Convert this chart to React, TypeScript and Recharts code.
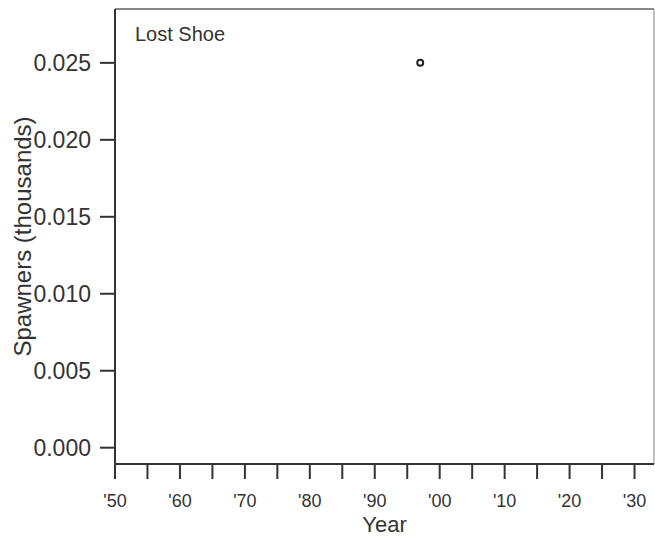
import React from 'react';
import { ScatterChart, Scatter, XAxis, YAxis, ReferenceLine } from 'recharts';

const years = [1997];
const spawners = [0.025];
const xTicks = [1950, 1955, 1960, 1965, 1970, 1975, 1980, 1985, 1990, 1995, 2000, 2005, 2010, 2015, 2020, 2025, 2030];
const yTicks = [0, 0.005, 0.01, 0.015, 0.02, 0.025];
const xDomain = [1950, 2033];
const yDomain = [-0.00106, 0.0285];
const title = 'Lost Shoe';

const data = years.map((y, i) => ({ year: y, value: spawners[i] }));

const FONT = 'Arial, "Liberation Sans", Helvetica, sans-serif';
const INK = '#333';

const xFmt = (v: number) => (v % 10 === 0 ? "'" + String(v % 100).padStart(2, '0') : '');

const Dot = (props: any) => {
  const { cx, cy } = props;
  return <circle cx={cx} cy={cy} r={3} fill="none" stroke="#222" strokeWidth={2} />;
};

export default function App() {
  return (
    <div style={{ position: 'absolute', left: 0, top: 0, width: 655, height: 538, background: '#fff', fontFamily: FONT }}>
      <ScatterChart width={655} height={538} margin={{ top: 9, right: 1, bottom: 0, left: 0 }}>
        <XAxis
          type="number"
          dataKey="year"
          domain={xDomain}
          ticks={xTicks}
          tickFormatter={xFmt}
          allowDataOverflow
          height={74}
          tickSize={15}
          tickMargin={15}
          interval={0}
          stroke={INK}
          strokeWidth={2}
          tick={{ fill: INK, fontSize: 18, fontFamily: FONT }}
          label={{ value: 'Year', position: 'insideBottom', offset: 6, fill: INK, fontSize: 22, fontFamily: FONT }}
        />
        <YAxis
          type="number"
          dataKey="value"
          domain={yDomain}
          ticks={yTicks}
          tickFormatter={(v: number) => v.toFixed(3)}
          allowDataOverflow
          width={115}
          tickSize={15}
          tickMargin={9}
          interval={0}
          stroke={INK}
          strokeWidth={2}
          tick={{ fill: INK, fontSize: 23, fontFamily: FONT }}
          label={{ value: 'Spawners (thousands)', angle: -90, position: 'insideLeft', offset: 22, fill: INK, fontSize: 24, fontFamily: FONT, style: { textAnchor: 'middle' } }}
        />
        <ReferenceLine y={yDomain[1]} stroke="#888" strokeWidth={2} />
        <ReferenceLine x={xDomain[1]} stroke="#aaa" strokeWidth={1.5} />
        <Scatter data={data} shape={<Dot />} isAnimationActive={false} />
      </ScatterChart>
      <div style={{ position: 'absolute', left: 135, top: 22, fontSize: 20, color: INK, fontFamily: FONT, lineHeight: '24px', whiteSpace: 'nowrap' }}>
        {title}
      </div>
    </div>
  );
}
